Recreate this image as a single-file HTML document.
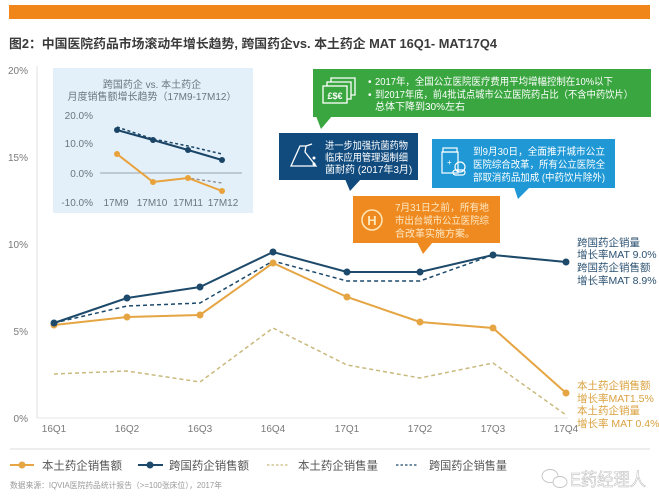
<!DOCTYPE html>
<html>
<head>
<meta charset="utf-8">
<style>
html,body{margin:0;padding:0;background:#fff;}
svg{display:block;font-family:"Liberation Sans","Noto Sans CJK SC",sans-serif;}
</style>
</head>
<body>
<svg width="659" height="497" viewBox="0 0 659 497" xmlns="http://www.w3.org/2000/svg">
<rect x="0" y="0" width="659" height="497" fill="#ffffff"/>
<!-- top bar -->
<rect x="9" y="5" width="641" height="14" fill="#f08519"/>
<!-- title -->
<text x="9" y="48" font-size="12.5" font-weight="bold" fill="#3a3a3a" textLength="488" lengthAdjust="spacingAndGlyphs">图2：中国医院药品市场滚动年增长趋势, 跨国药企vs. 本土药企 MAT 16Q1- MAT17Q4</text>

<!-- y axis labels -->
<g font-size="10" fill="#7a7a7a" text-anchor="end">
<text x="28" y="74">20%</text>
<text x="28" y="161">15%</text>
<text x="28" y="248">10%</text>
<text x="28" y="335">5%</text>
<text x="28" y="422">0%</text>
</g>
<!-- axes -->
<line x1="37" y1="66" x2="37" y2="418" stroke="#e0e0e0" stroke-width="1"/>
<line x1="37" y1="418" x2="568" y2="418" stroke="#e6e6e6" stroke-width="1"/>
<!-- x labels -->
<g font-size="10" fill="#7a7a7a" text-anchor="middle">
<text x="54" y="432">16Q1</text>
<text x="127" y="432">16Q2</text>
<text x="200" y="432">16Q3</text>
<text x="273" y="432">16Q4</text>
<text x="347" y="432">17Q1</text>
<text x="420" y="432">17Q2</text>
<text x="493" y="432">17Q3</text>
<text x="566" y="432">17Q4</text>
</g>

<!-- inset -->
<rect x="53" y="68" width="200" height="145" fill="#e3f0f9"/>
<g font-size="10" fill="#6a7580" text-anchor="middle">
<text x="152" y="88">跨国药企 vs. 本土药企</text>
<text x="152" y="100">月度销售额增长趋势（17M9-17M12）</text>
</g>
<g font-size="10" fill="#6a7580" text-anchor="end">
<text x="93" y="119">20.0%</text>
<text x="93" y="147">10.0%</text>
<text x="93" y="177">0.0%</text>
<text x="93" y="206">-10.0%</text>
</g>
<g font-size="10" fill="#6a7580" text-anchor="middle">
<text x="116" y="206">17M9</text>
<text x="152" y="206">17M10</text>
<text x="188" y="206">17M11</text>
<text x="223" y="206">17M12</text>
</g>
<line x1="100" y1="173" x2="242" y2="173" stroke="#9aa4ab" stroke-width="1"/>
<polyline points="117,127 153,139 188,146 222,154" fill="none" stroke="#1a4466" stroke-width="1.5" stroke-dasharray="3,2.5"/>
<polyline points="117,130 153,140 188,150 222,160" fill="none" stroke="#1a4466" stroke-width="2"/>
<g fill="#1a4466"><circle cx="117" cy="130" r="3"/><circle cx="153" cy="140" r="3"/><circle cx="188" cy="150" r="3"/><circle cx="222" cy="160" r="3"/></g>
<polyline points="153,182 188,178 222,183" fill="none" stroke="#8a8a8a" stroke-width="1.3" stroke-dasharray="3,2.5"/>
<polyline points="117,154 153,182 188,178 222,191" fill="none" stroke="#e9a23b" stroke-width="2"/>
<g fill="#e9a23b"><circle cx="117" cy="154" r="3"/><circle cx="153" cy="182" r="3"/><circle cx="188" cy="178" r="3"/><circle cx="222" cy="191" r="3"/></g>

<!-- main series -->
<polyline points="54,374 127,371 200,382 273,328 347,365 420,378 493,363 566,415" fill="none" stroke="#c9b97c" stroke-width="1.5" stroke-dasharray="4,3"/>
<polyline points="54,323 127,306 200,303 273,261 347,281 420,281 493,255 566,262" fill="none" stroke="#1d4a6b" stroke-width="1.5" stroke-dasharray="4,3"/>
<polyline points="54,325 127,317 200,315 273,263 347,297 420,322 493,328 566,393" fill="none" stroke="#e5a543" stroke-width="2"/>
<g fill="#e5a543">
<circle cx="54" cy="325" r="3.5"/><circle cx="127" cy="317" r="3.5"/><circle cx="200" cy="315" r="3.5"/><circle cx="273" cy="263" r="3.5"/><circle cx="347" cy="297" r="3.5"/><circle cx="420" cy="322" r="3.5"/><circle cx="493" cy="328" r="3.5"/><circle cx="566" cy="393" r="3.5"/>
</g>
<polyline points="54,323 127,298 200,287 273,252 347,272 420,272 493,255 566,262" fill="none" stroke="#1d4a6b" stroke-width="2"/>
<g fill="#1d4a6b">
<circle cx="54" cy="323" r="3.5"/><circle cx="127" cy="298" r="3.5"/><circle cx="200" cy="287" r="3.5"/><circle cx="273" cy="252" r="3.5"/><circle cx="347" cy="272" r="3.5"/><circle cx="420" cy="272" r="3.5"/><circle cx="493" cy="255" r="3.5"/><circle cx="566" cy="262" r="3.5"/>
</g>

<!-- right labels -->
<g font-size="10.5" fill="#2c5272">
<text x="577" y="246">跨国药企销量</text>
<text x="577" y="258">增长率MAT 9.0%</text>
<text x="577" y="271">跨国药企销售额</text>
<text x="577" y="284">增长率MAT 8.9%</text>
</g>
<g font-size="10.5" fill="#d9a13f">
<text x="577" y="389">本土药企销售额</text>
<text x="577" y="402">增长率MAT1.5%</text>
<text x="577" y="414">本土药企销量</text>
<text x="577" y="427">增长率 MAT 0.4%</text>
</g>

<!-- green box -->
<rect x="313" y="69" width="338" height="48" fill="#3aa640"/>
<polygon points="316,116 332,116 321,129" fill="#3aa640"/>
<g fill="none" stroke="#ffffff" stroke-width="1.3">
<rect x="323" y="86" width="24" height="17"/>
<polyline points="327,86 327,82 351,82 351,99 347,99"/>
<polyline points="331,82 331,78 355,78 355,95 351,95"/>
</g>
<text x="335" y="99" font-size="9" font-weight="bold" fill="#ffffff" text-anchor="middle">£$€</text>
<g font-size="10" fill="#ffffff">
<text x="368" y="85">•</text>
<text x="375" y="85" textLength="238" lengthAdjust="spacingAndGlyphs">2017年，全国公立医院医疗费用平均增幅控制在10%以下</text>
<text x="368" y="98">•</text>
<text x="375" y="98" textLength="258" lengthAdjust="spacingAndGlyphs">到2017年底，前4批试点城市公立医院药占比（不含中药饮片）</text>
<text x="375" y="110">总体下降到30%左右</text>
</g>

<!-- dark blue box -->
<rect x="279" y="133" width="139" height="47" fill="#114b7e"/>
<polygon points="345,179 361,179 350,191" fill="#114b7e"/>
<g fill="none" stroke="#ffffff" stroke-width="1.3">
<path d="M300,146 L306,146 L305,152 L316,166 L291,166 Z"/>
<path d="M306,146 L312,144"/>
</g>
<g fill="#ffffff"><circle cx="314" cy="158" r="1.5"/><circle cx="314" cy="164" r="1.5"/></g>
<g font-size="10" fill="#ffffff">
<text x="325" y="149" textLength="83" lengthAdjust="spacingAndGlyphs">进一步加强抗菌药物</text>
<text x="325" y="161" textLength="83" lengthAdjust="spacingAndGlyphs">临床应用管理遏制细</text>
<text x="325" y="173">菌耐药 (2017年3月)</text>
</g>

<!-- light blue box -->
<rect x="432" y="139" width="183" height="49" fill="#1f98d5"/>
<polygon points="514,187 530,187 518,199" fill="#1f98d5"/>
<g fill="none" stroke="#ffffff" stroke-width="1.2">
<rect x="443" y="148" width="14" height="4"/>
<rect x="442" y="152" width="16" height="21"/>
<circle cx="460" cy="167" r="5"/>
<rect x="453" y="170" width="12" height="5" rx="2.5"/>
</g>
<text x="447" y="165" font-size="8" fill="#ffffff">+</text>
<g font-size="10" fill="#ffffff">
<text x="473" y="155" textLength="132" lengthAdjust="spacingAndGlyphs">到9月30日，全面推开城市公立</text>
<text x="473" y="168" textLength="132" lengthAdjust="spacingAndGlyphs">医院综合改革，所有公立医院全</text>
<text x="473" y="181" textLength="132" lengthAdjust="spacingAndGlyphs">部取消药品加成 (中药饮片除外)</text>
</g>

<!-- orange box -->
<rect x="353" y="196" width="147" height="47" fill="#ef8a20"/>
<polygon points="417,242 433,242 423,254" fill="#ef8a20"/>
<circle cx="372" cy="220" r="10" fill="none" stroke="#fde6b8" stroke-width="1.5"/>
<text x="372" y="225" font-size="13" font-weight="bold" fill="#fde6b8" text-anchor="middle">H</text>
<g font-size="10" fill="#fde9c4">
<text x="395" y="211" textLength="94" lengthAdjust="spacingAndGlyphs">7月31日之前，所有地</text>
<text x="395" y="224" textLength="94" lengthAdjust="spacingAndGlyphs">市出台城市公立医院综</text>
<text x="395" y="237">合改革实施方案。</text>
</g>

<!-- legend -->
<line x1="10" y1="449" x2="650" y2="449" stroke="#dddddd" stroke-width="1"/>
<line x1="10" y1="465" x2="34" y2="465" stroke="#e5a543" stroke-width="2"/>
<circle cx="22" cy="465" r="3.5" fill="#e5a543"/>
<text x="42" y="469.5" font-size="11.5" fill="#555" textLength="80" lengthAdjust="spacingAndGlyphs">本土药企销售额</text>
<line x1="138" y1="465" x2="163" y2="465" stroke="#1d4a6b" stroke-width="2"/>
<circle cx="150" cy="465" r="3.5" fill="#1d4a6b"/>
<text x="169" y="469.5" font-size="11.5" fill="#555" textLength="80" lengthAdjust="spacingAndGlyphs">跨国药企销售额</text>
<line x1="267" y1="465" x2="289" y2="465" stroke="#c9b97c" stroke-width="1.3" stroke-dasharray="2.5,2"/>
<text x="298" y="469.5" font-size="11.5" fill="#555" textLength="80" lengthAdjust="spacingAndGlyphs">本土药企销售量</text>
<line x1="396" y1="465" x2="418" y2="465" stroke="#1d4a6b" stroke-width="1.3" stroke-dasharray="2.5,2"/>
<text x="429" y="469.5" font-size="11.5" fill="#555" textLength="78" lengthAdjust="spacingAndGlyphs">跨国药企销售量</text>

<!-- source -->
<text x="10" y="488" font-size="8" fill="#9a9a9a" textLength="212" lengthAdjust="spacingAndGlyphs">数据来源：IQVIA医院药品统计报告（&gt;=100张床位），2017年</text>

<!-- watermark -->
<g fill="none" stroke="#c4c4c4" stroke-width="0.9">
<ellipse cx="550" cy="476" rx="8" ry="6.5"/>
<ellipse cx="560" cy="482" rx="7" ry="5.5" fill="#fff"/>
</g>
<text x="570" y="486" font-size="18" fill="#ffffff" stroke="#c0c0c0" stroke-width="0.6" textLength="76" lengthAdjust="spacingAndGlyphs">E药经理人</text>
</svg>
</body>
</html>
